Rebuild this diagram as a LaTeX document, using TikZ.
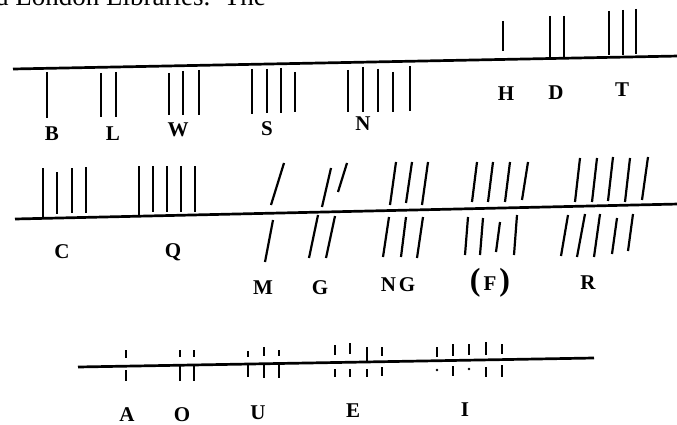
\documentclass[tikz,border=0pt]{standalone}
\usepackage{fontspec}
\setmainfont{Liberation Serif}
\begin{document}
\begin{tikzpicture}[x=1pt,y=-1pt,
  stem/.style={line width=2.7pt},
  stk/.style={line width=2.2pt},
  vstk/.style={line width=2pt},
  lbl/.style={font=\fontsize{21}{23}\selectfont\bfseries, inner sep=0pt},
  head/.style={font=\fontsize{27}{29}\selectfont, inner sep=0pt, anchor=base west}]
\useasboundingbox (0,0) rectangle (677,425);
\clip (0,0) rectangle (677,425);
\fill[white] (0,0) rectangle (677,425);
% clipped running text at top
\node[head] (hdr) at (-5,5.5) {d London Libraries.\ \ The};
% stem lines
\coordinate (t1) at (13,69);  \coordinate (t2) at (679,56);
\coordinate (m1) at (15,219); \coordinate (m2) at (679,204);
\coordinate (b1) at (78,367); \coordinate (b2) at (594,358);
\draw[stem] (t1) -- (t2);
\draw[stem] (m1) -- (m2);
\draw[stem] (b1) -- (b2);
% ---- top row: below the line
\draw[stk] (47,72) -- (47,118);
\draw[stk] (101,73) -- (101,117) (116,72) -- (116,117);
\draw[stk] (169,73) -- (169,115) (183,71) -- (183,115) (199,70) -- (199,115);
\draw[stk] (252,69) -- (252,114) (267,69) -- (267,113) (281,68) -- (281,113) (295,72) -- (295,112);
\draw[stk] (348,70) -- (348,112) (363,67) -- (363,112) (378,69) -- (378,112) (393,72) -- (393,112) (410,66) -- (410,111);
% ---- top row: above the line
\draw[stk] (503,21) -- (503,51);
\draw[stk] (550,16) -- (550,57) (564,16) -- (564,57);
\draw[stk] (609,11) -- (609,55) (623,10) -- (623,55) (636,9) -- (636,54);
% ---- middle row: above the line, upright
\draw[stk] (43,168) -- (43,217) (57,172) -- (57,214) (72,168) -- (72,213) (86,167) -- (86,213);
\draw[stk] (139,166) -- (139,216) (153,166) -- (153,212) (167,166) -- (167,212) (181,166) -- (181,212) (195,166) -- (195,212);
% ---- middle row: slanting, through the line
\draw[stk] (271,205) -- (284,163) (273,220) -- (265,262);
\draw[stk] (322,207) -- (331,168) (338,192) -- (347,163);
\draw[stk] (318,215) -- (309,258) (335,216) -- (326,258);
\draw[stk] (390,205) -- (396,162) (406,203) -- (412,162) (422,205) -- (428,162);
\draw[stk] (389,217) -- (383,257) (406,217) -- (401,257) (423,217) -- (417,258);
\draw[stk] (472,202) -- (477,162) (488,202) -- (493,162) (505,202) -- (510,162) (522,200) -- (528,162);
\draw[stk] (468,217) -- (465,255) (483,218) -- (480,255) (500,222) -- (496,252) (517,215) -- (514,255);
\draw[stk] (575,202) -- (580,158) (592,202) -- (597,158) (608,201) -- (613,157) (625,202) -- (630,158) (642,200) -- (648,157);
\draw[stk] (568,215) -- (561,256) (585,214) -- (577,257) (600,214) -- (594,257) (617,218) -- (612,254) (633,214) -- (628,251);
% ---- bottom row: vowels
\draw[vstk] (126,350) -- (126,358) (126,370) -- (126,381);
\draw[vstk] (180,350) -- (180,357) (194,350) -- (194,357);
\draw[vstk] (180,366) -- (180,381) (194,366) -- (194,381);
\draw[vstk] (248,351) -- (248,357) (264,347) -- (264,356) (279,350) -- (279,356);
\draw[vstk] (248,364) -- (248,377) (264,364) -- (264,378) (279,364) -- (279,378);
\draw[vstk] (335,345) -- (335,355) (350,343) -- (350,354) (367,347) -- (367,362) (382,347) -- (382,356);
\draw[vstk] (335,369) -- (335,377) (350,369) -- (350,377) (367,369) -- (367,377) (382,367) -- (382,376);
\draw[vstk] (437,347) -- (437,357) (453,344) -- (453,356) (469,344) -- (469,355) (486,342) -- (486,355) (502,344) -- (502,354);
\fill (437,370) circle (1.4);
\draw[vstk] (453,366) -- (453,376);
\fill (469,369) circle (1.4);
\draw[vstk] (486,367) -- (486,377) (502,365) -- (502,377);
% ---- labels
\node[lbl] (lB) at (52,134) {B};
\node[lbl] (lL) at (113,134) {L};
\node[lbl] (lW) at (178,130) {W};
\node[lbl] (lS) at (267,129) {S};
\node[lbl] (lN) at (363,124) {N};
\node[lbl] (lH) at (506,94) {H};
\node[lbl] (lD) at (556,93) {D};
\node[lbl] (lT) at (622,90) {T};
\node[lbl] (lC) at (62,252) {C};
\node[lbl] (lQ) at (173,252) {Q};
\node[lbl] (lM) at (263,288) {M};
\node[lbl] (lG) at (320,288) {G};
\node[lbl] (lNG) at (398,285) {N\hspace{3pt}G};
\node[lbl] (lF) at (490,283) {{\fontsize{32}{33}\selectfont(}\hspace{3pt}F\hspace{3pt}{\fontsize{32}{33}\selectfont)}};
\node[lbl] (lR) at (588,283) {R};
\node[lbl] (lA) at (127,415) {A};
\node[lbl] (lO) at (182,415) {O};
\node[lbl] (lU) at (258,413) {U};
\node[lbl] (lE) at (353,411) {E};
\node[lbl] (lI) at (465,410) {I};
\end{tikzpicture}
\end{document}
